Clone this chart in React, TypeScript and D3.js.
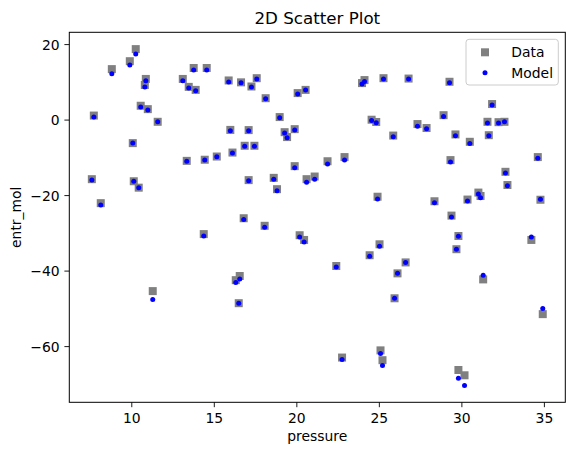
import React from "react";
import * as d3 from "d3";

const pressure = [
  7.70, 8.79, 9.88, 10.24, 10.85, 10.79, 10.54, 10.97, 11.57, 10.06,
  13.09, 13.45, 13.87, 13.75, 14.54, 15.87, 15.97, 13.33, 14.42, 15.15,
  16.10, 7.58, 10.12, 10.42, 8.12, 14.36, 11.27, 16.54, 16.30, 16.48,
  16.62, 17.25, 17.57, 18.11, 20.05, 20.53, 18.96, 17.08, 19.26, 19.41,
  19.87, 16.84, 17.43, 23.95, 24.10, 25.25, 24.53, 24.81, 25.84, 19.87,
  21.86, 22.89, 17.08, 18.60, 18.80, 20.59, 21.08, 24.89, 16.78, 18.05,
  20.17, 20.44, 25.01, 24.41, 22.39, 26.10, 25.92, 22.74, 25.07, 25.19,
  26.59, 26.77, 29.25, 31.83, 28.89, 27.31, 27.86, 31.55, 32.22, 32.58,
  31.63, 29.61, 30.48, 29.31, 34.60, 32.64, 32.76, 28.34, 30.34, 31.00,
  31.13, 34.76, 29.37, 29.79, 29.67, 34.21, 31.29, 34.90, 29.79, 30.16,
];

const entrData = [
  1.2, 13.5, 15.6, 18.8, 10.9, 9.3, 3.8, 2.9, -0.45, -6.1,
  10.9, 8.8, 8.0, 13.8, 13.8, 10.5, -2.6, -10.8, -10.5, -9.65,
  -8.6, -15.65, -16.2, -17.9, -22.0, -30.2, -45.3, -41.3, -42.4, -48.5,
  10.0, 8.9, 11.1, 5.8, 7.15, 8.0, 0.8, -2.65, -3.2, -4.5,
  -2.4, -6.8, -6.8, 9.8, 10.6, 11.1, 0.1, -0.5, -4.1, -12.2,
  -10.9, -9.8, -15.9, -15.3, -18.3, -15.65, -14.95, -20.3, -26.0, -28.0,
  -30.5, -31.75, -32.9, -35.8, -38.65, -40.6, -47.2, -62.9, -61.0, -63.6,
  -37.7, 11.0, 10.15, 4.25, 1.3, -1.05, -2.1, -0.45, -0.55, -0.45,
  -4.0, -3.8, -5.75, -10.6, -9.8, -13.7, -17.2, -21.5, -21.05, -19.2,
  -20.1, -21.1, -25.3, -30.7, -34.2, -31.75, -42.2, -51.4, -66.2, -67.6,
];

const entrModel = [
  0.8, 12.3, 14.6, 17.5, 10.4, 8.75, 3.45, 2.65, -0.45, -6.1,
  10.4, 8.5, 7.8, 13.3, 13.3, 10.1, -2.85, -10.9, -10.6, -9.7,
  -8.75, -15.9, -16.2, -17.9, -22.5, -30.7, -47.5, -42.1, -43.0, -48.5,
  9.9, 8.75, 10.9, 5.65, 6.9, 7.95, 0.6, -2.85, -3.45, -4.7,
  -2.6, -6.9, -6.9, 9.55, 10.2, 10.9, -0.1, -0.7, -4.4, -12.65,
  -11.6, -10.6, -16.1, -15.65, -18.75, -16.45, -15.65, -20.9, -26.3, -28.4,
  -31.0, -32.3, -33.4, -36.1, -38.9, -40.6, -47.2, -63.4, -61.8, -65.0,
  -37.7, 10.9, 9.9, 4.0, 0.95, -1.6, -2.3, -0.8, -0.8, -0.45,
  -4.15, -4.15, -6.2, -11.1, -10.1, -14.0, -17.4, -21.9, -21.4, -19.55,
  -20.6, -20.95, -25.65, -30.8, -34.2, -31.0, -41.1, -49.9, -68.4, -70.3,
];

const xTicks = [10, 15, 20, 25, 30, 35];
const yTicks = [20, 0, -20, -40, -60];

const W = 574;
const H = 455;
const L = 69.3;
const R = 565.3;
const T = 32.3;
const B = 402.3;
const FONT = "DejaVu Sans, sans-serif";

function padExtent(vals: number[]): [number, number] {
  const [a, b] = d3.extent(vals) as [number, number];
  const m = (b - a) * 0.05;
  return [a - m, b + m];
}

const fmt = (v: number) => (v < 0 ? "\u2212" + Math.abs(v) : String(v));

export default function App() {
  const x = d3.scaleLinear().domain(padExtent(pressure)).range([L, R]);
  const y = d3
    .scaleLinear()
    .domain(padExtent([...entrData, ...entrModel]))
    .range([B, T]);

  const sq = 8;
  const dotR = 2.5;

  return (
    <svg
      width={W}
      height={H}
      style={{ position: "absolute", left: 0, top: 0, background: "#fff" }}
      fontFamily={FONT}
    >
      <rect x={0} y={0} width={W} height={H} fill="#fff" />
      <g>
        {pressure.map((p, i) => (
          <rect
            key={"s" + i}
            x={x(p) - sq / 2}
            y={y(entrData[i]) - sq / 2}
            width={sq}
            height={sq}
            fill="#808080"
          />
        ))}
        {pressure.map((p, i) => (
          <circle key={"c" + i} cx={x(p)} cy={y(entrModel[i])} r={dotR} fill="#0000ff" />
        ))}
      </g>
      <rect x={L} y={T} width={R - L} height={B - T} fill="none" stroke="#000" strokeWidth={1} />
      {xTicks.map((t) => (
        <g key={"xt" + t}>
          <line x1={x(t)} x2={x(t)} y1={B} y2={B + 4.9} stroke="#000" strokeWidth={0.9} />
          <text x={x(t)} y={423} textAnchor="middle" fontSize={13.9} fill="#000">
            {fmt(t)}
          </text>
        </g>
      ))}
      {yTicks.map((t) => (
        <g key={"yt" + t}>
          <line x1={L - 4.9} x2={L} y1={y(t)} y2={y(t)} stroke="#000" strokeWidth={0.9} />
          <text x={59.6} y={y(t) + 5} textAnchor="end" fontSize={13.9} fill="#000">
            {fmt(t)}
          </text>
        </g>
      ))}
      <text x={(L + R) / 2} y={441} textAnchor="middle" fontSize={13.9} fill="#000">
        pressure
      </text>
      <text
        transform={`translate(21,${(T + B) / 2}) rotate(-90)`}
        textAnchor="middle"
        fontSize={13.9}
        fill="#000"
      >
        entr_mol
      </text>
      <text x={(L + R) / 2} y={24} textAnchor="middle" fontSize={16.7} fill="#000">
        2D Scatter Plot
      </text>
      <g>
        <rect
          x={466}
          y={39.3}
          width={92.3}
          height={45.7}
          rx={3}
          fill="#fff"
          fillOpacity={0.8}
          stroke="#cccccc"
          strokeWidth={1}
        />
        <rect x={485 - sq / 2} y={52.3 - sq / 2} width={sq} height={sq} fill="#808080" />
        <text x={511.3} y={57} fontSize={13.9} fill="#000">
          Data
        </text>
        <circle cx={485} cy={72.7} r={dotR} fill="#0000ff" />
        <text x={511.3} y={77.5} fontSize={13.9} fill="#000">
          Model
        </text>
      </g>
    </svg>
  );
}
